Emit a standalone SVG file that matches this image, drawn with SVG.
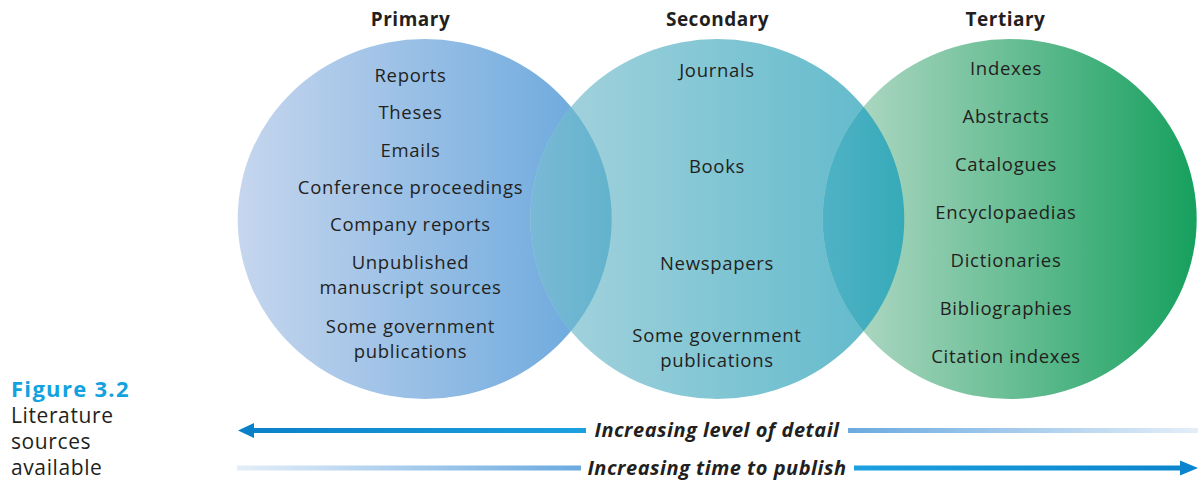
<svg xmlns="http://www.w3.org/2000/svg" width="1202" height="480" viewBox="0 0 1202 480">
<style>
text{font-family:"Open Sans","Noto Sans","Liberation Sans",sans-serif;fill:#231f20}
.item{font-size:18.5px;letter-spacing:0.7px;text-anchor:middle}
.title{font-size:19px;font-weight:bold;letter-spacing:0.5px;text-anchor:middle}
.axis{font-size:20px;font-weight:bold;font-style:italic;letter-spacing:0.5px;text-anchor:middle}
.cap{font-size:21px;letter-spacing:0.6px}
.fig{font-size:22px;font-weight:bold;letter-spacing:1.3px;fill:#12a2e0}
</style>
<defs>
<linearGradient id="gP" x1="237" y1="0" x2="612" y2="0" gradientUnits="userSpaceOnUse"><stop offset="0" stop-color="#c6d6ee"/><stop offset="1" stop-color="#66a6dc"/></linearGradient>
<linearGradient id="gS" x1="530" y1="0" x2="905" y2="0" gradientUnits="userSpaceOnUse"><stop offset="0" stop-color="#a8d4de"/><stop offset="1" stop-color="#5cb8ca"/></linearGradient>
<linearGradient id="gT" x1="822" y1="0" x2="1197" y2="0" gradientUnits="userSpaceOnUse"><stop offset="0" stop-color="#bcdccc"/><stop offset="1" stop-color="#16a05e"/></linearGradient>
<linearGradient id="gL1" x1="530" y1="0" x2="612" y2="0" gradientUnits="userSpaceOnUse"><stop offset="0" stop-color="#7ab9d6"/><stop offset="1" stop-color="#62b3cc"/></linearGradient>
<linearGradient id="gL2" x1="822" y1="0" x2="905" y2="0" gradientUnits="userSpaceOnUse"><stop offset="0" stop-color="#50b2c6"/><stop offset="1" stop-color="#36aab8"/></linearGradient>
<linearGradient id="gStrongL" x1="238" y1="0" x2="586" y2="0" gradientUnits="userSpaceOnUse"><stop offset="0" stop-color="#0a80c8"/><stop offset="1" stop-color="#1ca0e0"/></linearGradient>
<linearGradient id="gFadeR" x1="848" y1="0" x2="1198" y2="0" gradientUnits="userSpaceOnUse"><stop offset="0" stop-color="#6aaae0"/><stop offset="1" stop-color="#e4eef8"/></linearGradient>
<linearGradient id="gFadeL" x1="237" y1="0" x2="581" y2="0" gradientUnits="userSpaceOnUse"><stop offset="0" stop-color="#e4eef8"/><stop offset="1" stop-color="#6aaae0"/></linearGradient>
<linearGradient id="gStrongR" x1="854" y1="0" x2="1198" y2="0" gradientUnits="userSpaceOnUse"><stop offset="0" stop-color="#1ca0e0"/><stop offset="1" stop-color="#0a84cc"/></linearGradient>
<clipPath id="cP"><ellipse cx="424.7" cy="219" rx="187" ry="180"/></clipPath>
<clipPath id="cS"><ellipse cx="717.3" cy="219" rx="187" ry="180"/></clipPath>
</defs>

<g id="primary">
<ellipse cx="424.7" cy="219" rx="187" ry="180" fill="url(#gP)"/>
</g>
<g id="secondary">
<ellipse cx="717.3" cy="219" rx="187" ry="180" fill="url(#gS)"/>
</g>
<g id="tertiary">
<ellipse cx="1009.7" cy="219" rx="187" ry="180" fill="url(#gT)"/>
</g>
<g id="overlaps">
<ellipse cx="717.3" cy="219" rx="187" ry="180" fill="url(#gL1)" clip-path="url(#cP)"/>
<ellipse cx="1009.7" cy="219" rx="187" ry="180" fill="url(#gL2)" clip-path="url(#cS)"/>
</g>

<g id="primary-labels">
<text class="title" x="410.5" y="26">Primary</text>
<text class="item" x="410.5" y="82">Reports</text>
<text class="item" x="410.5" y="118.5">Theses</text>
<text class="item" x="410.5" y="156.5">Emails</text>
<text class="item" x="410.5" y="194">Conference proceedings</text>
<text class="item" x="410.5" y="231">Company reports</text>
<text class="item" x="410.5" y="269">Unpublished</text>
<text class="item" x="410.5" y="294">manuscript sources</text>
<text class="item" x="410.5" y="332.5">Some government</text>
<text class="item" x="410.5" y="357.5">publications</text>
</g>
<g id="secondary-labels">
<text class="title" x="717.5" y="26">Secondary</text>
<text class="item" x="717" y="77">Journals</text>
<text class="item" x="717" y="173">Books</text>
<text class="item" x="717" y="270">Newspapers</text>
<text class="item" x="717" y="342">Some government</text>
<text class="item" x="717" y="367">publications</text>
</g>
<g id="tertiary-labels">
<text class="title" x="1005.5" y="26">Tertiary</text>
<text class="item" x="1006" y="75">Indexes</text>
<text class="item" x="1006" y="123">Abstracts</text>
<text class="item" x="1006" y="171">Catalogues</text>
<text class="item" x="1006" y="219">Encyclopaedias</text>
<text class="item" x="1006" y="267">Dictionaries</text>
<text class="item" x="1006" y="315">Bibliographies</text>
<text class="item" x="1006" y="363">Citation indexes</text>
</g>

<g id="caption">
<text class="fig" x="11" y="397">Figure 3.2</text>
<text class="cap" x="11" y="423">Literature</text>
<text class="cap" x="11" y="449">sources</text>
<text class="cap" x="11" y="475">available</text>
</g>

<g id="connectors">
<rect x="252" y="428" width="334" height="5" fill="url(#gStrongL)"/>
<polygon points="238,430.5 254,423 254,438" fill="#0a80c8"/>
<rect x="848" y="428" width="350" height="5" fill="url(#gFadeR)"/>
<text class="axis" x="717" y="437">Increasing level of detail</text>
<rect x="237" y="465.5" width="344" height="5" fill="url(#gFadeL)"/>
<rect x="854" y="465.5" width="328" height="5" fill="url(#gStrongR)"/>
<polygon points="1198,468 1180,460.5 1180,475.5" fill="#0a84cc"/>
<text class="axis" x="717" y="475">Increasing time to publish</text>
</g>
</svg>
